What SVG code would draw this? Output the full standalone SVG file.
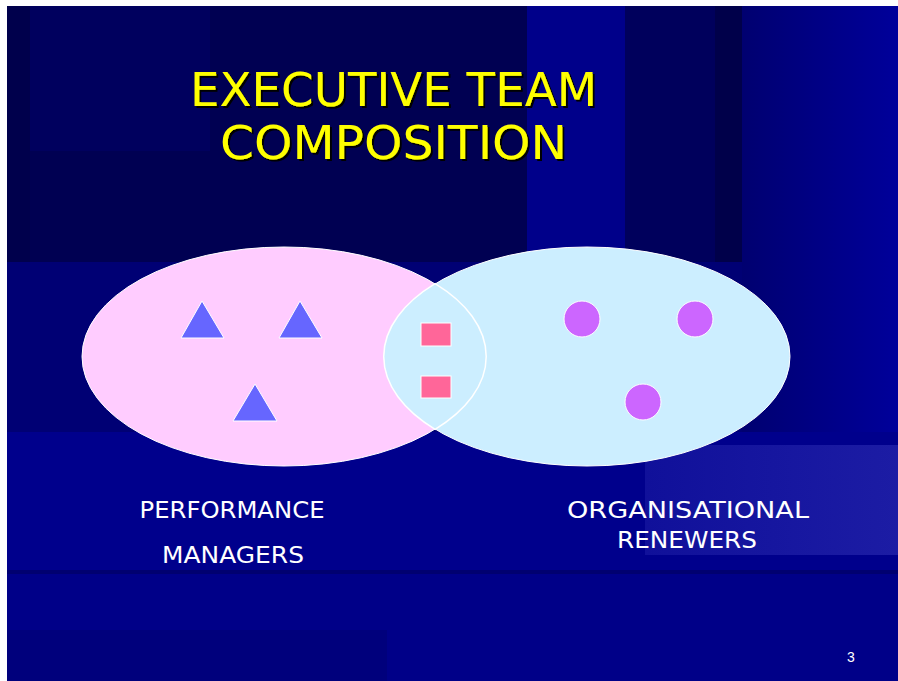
<svg xmlns="http://www.w3.org/2000/svg" width="898" height="681" viewBox="0 0 898 681">
<style>
.title{font-family:"DejaVu Sans","Liberation Sans",sans-serif;font-size:46px;fill:#ffff00}
.label{font-family:"DejaVu Sans","Liberation Sans",sans-serif;font-size:23px;fill:#ffffff}
.tri{fill:#6666ff;stroke:#ffffff;stroke-width:1}
.dot{fill:#cc66ff;stroke:#ffffff;stroke-width:1}
.sq{fill:#ff6699;stroke:#ffffff;stroke-width:1}
</style>
<defs>
<linearGradient id="gR" x1="0" y1="0" x2="1" y2="0">
<stop offset="0" stop-color="#000070"/><stop offset="1" stop-color="#00009a"/>
</linearGradient>
<linearGradient id="gP" x1="0" y1="0" x2="1" y2="0">
<stop offset="0" stop-color="#10109a"/><stop offset="1" stop-color="#1c1ca4"/>
</linearGradient>
<filter id="shadow" x="-10%" y="-20%" width="120%" height="140%">
<feDropShadow dx="2" dy="2" stdDeviation="0.4" flood-color="#000000" flood-opacity="1"/>
</filter>
</defs>
<rect x="0" y="0" width="898" height="681" fill="#ffffff"/>
<g id="background">
<rect x="7" y="6" width="891" height="675" fill="#000088"/>
<rect x="7" y="6" width="520" height="256" fill="#000052"/>
<rect x="30" y="6" width="180" height="145" fill="#00005e"/>
<rect x="7" y="6" width="23" height="256" fill="#00004c"/>
<rect x="527" y="6" width="98" height="256" fill="#00008a"/>
<rect x="625" y="6" width="90" height="256" fill="#00005c"/>
<rect x="715" y="6" width="27" height="256" fill="#00004a"/>
<rect x="742" y="6" width="156" height="256" fill="url(#gR)"/>
<rect x="7" y="262" width="891" height="170" fill="#000074"/>
<rect x="742" y="262" width="156" height="170" fill="url(#gR)"/>
<rect x="7" y="432" width="891" height="140" fill="#00008c"/>
<rect x="645" y="445" width="253" height="110" fill="url(#gP)"/>
<rect x="7" y="570" width="891" height="4" fill="#000070"/>
<rect x="7" y="574" width="891" height="107" fill="#000088"/>
<rect x="7" y="630" width="380" height="51" fill="#00007c"/>
</g>
<g id="title" filter="url(#shadow)">
<text class="title" x="393.5" y="105.5" text-anchor="middle" textLength="407" lengthAdjust="spacingAndGlyphs">EXECUTIVE TEAM</text>
<text class="title" x="393.5" y="159" text-anchor="middle" textLength="347" lengthAdjust="spacingAndGlyphs">COMPOSITION</text>
</g>
<g id="performance-managers">
<ellipse cx="284" cy="356.5" rx="202" ry="109.5" fill="#ffccff" stroke="#ffffff" stroke-width="1"/>
<polygon class="tri" points="202,301 224,338 181,338"/>
<polygon class="tri" points="300,301 322,338 279,338"/>
<polygon class="tri" points="255,384 277,421 233,421"/>
<text class="label" x="232" y="518" text-anchor="middle" textLength="185" lengthAdjust="spacingAndGlyphs">PERFORMANCE</text>
<text class="label" x="233" y="563" text-anchor="middle" textLength="142" lengthAdjust="spacingAndGlyphs">MANAGERS</text>
</g>
<g id="organisational-renewers">
<ellipse cx="587" cy="356.5" rx="203" ry="109.5" fill="#cceeff" stroke="#ffffff" stroke-width="1"/>
<circle class="dot" cx="582" cy="319" r="18"/>
<circle class="dot" cx="695" cy="319" r="18"/>
<circle class="dot" cx="643" cy="402" r="18"/>
<text class="label" x="688" y="518" text-anchor="middle" textLength="242" lengthAdjust="spacingAndGlyphs">ORGANISATIONAL</text>
<text class="label" x="687" y="548" text-anchor="middle" textLength="140" lengthAdjust="spacingAndGlyphs">RENEWERS</text>
</g>
<g id="overlap">
<path d="M 435.1 283.7 A 202 109.5 0 0 1 435.1 429.3 A 203 109.5 0 0 1 435.1 283.7 Z" fill="#cceeff" stroke="#ffffff" stroke-width="1.5"/>
<rect class="sq" x="421" y="323" width="30" height="23"/>
<rect class="sq" x="421" y="376" width="30" height="22"/>
</g>
<g id="connectors"/>
<text x="851" y="662" text-anchor="middle" font-family="Liberation Sans, Arial, sans-serif" font-size="14" fill="#ffffff">3</text>
</svg>
